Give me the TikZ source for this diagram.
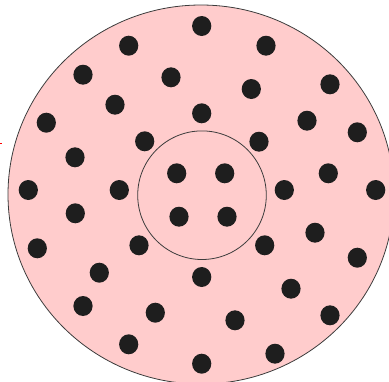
\documentclass[tikz,border=0pt]{standalone}
\definecolor{pinkfill}{RGB}{255,204,204}
\definecolor{dotcol}{RGB}{30,30,30}
\definecolor{edgecol}{RGB}{60,60,60}
\tikzset{
  ring/.style={draw=edgecol, line width=0.8pt},
  dot/.style={fill=dotcol, draw=none},
}
\begin{document}
\begin{tikzpicture}[x=1pt,y=-1pt]
\useasboundingbox (0,0) rectangle (389,381);
\begin{scope}
\clip (0,0) rectangle (389,381);
\fill[pinkfill] (201,194.5) ellipse [x radius=193, y radius=189.5];
\draw[ring] (201,194.5) ellipse [x radius=193, y radius=189.5];
\end{scope}
\draw[ring] (202,195.2) circle (64.3);
\foreach \px/\py in {
 201.7/26, 128.7/45.7, 266/45.7, 83/74.7, 171/77.3, 251.3/89, 330/84.3,
 115/104.7, 201.7/113.3, 46.3/122.7, 307/120.7, 357.3/132.3, 144.7/141.3,
 259/141.7, 75/157.3, 176.7/173.3, 224.7/173.3, 328.3/173.3, 28.3/190,
 119.3/190, 284.3/190, 375.7/190, 75.3/213.3, 179/216.7, 227/216.7,
 315/232.7, 37.3/248.3, 139/245.3, 264.7/245.3, 357.3/257.7, 99.3/272.7,
 201.7/277, 291/288.7, 83/306, 155.3/312.7, 330/315.3, 235/320.3,
 128.7/344.3, 275/353.7, 201.7/363.7}
 {\fill[dot] (\px,\py) ellipse [x radius=9.6, y radius=10];}
\draw[red, line width=0.8pt] (0,143.3) -- (2,143.3);
\end{tikzpicture}
\end{document}
